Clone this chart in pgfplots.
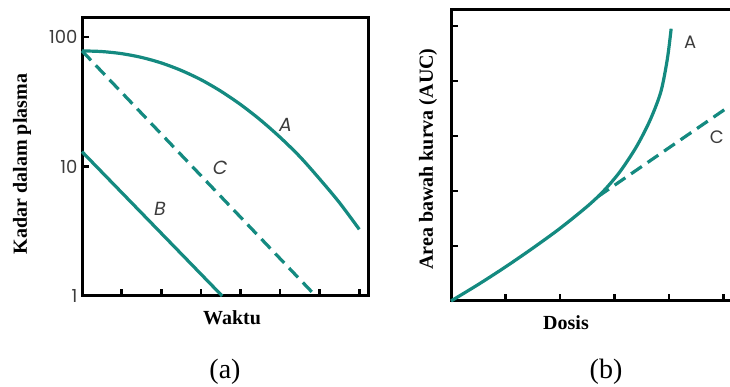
\documentclass[border=0pt]{standalone}
\usepackage{pgfplots}
\pgfplotsset{compat=1.18}
\usepackage{fontspec}
\setmainfont{Liberation Serif}
\newfontfamily\futura{Poppins}
\definecolor{teal1}{RGB}{20,138,128}
\definecolor{lab}{RGB}{60,60,60}
\begin{document}
\begin{tikzpicture}[x=1pt,y=1pt]
\pgfplotsset{
  myax/.style={
    scale only axis, tick pos=left, tick align=inside,
    major tick length=7pt,
    axis line style={line width=3pt},
    major tick style={black, line width=2.6pt},
    xticklabels={},
    clip=false,
  }
}
% ---------- panel (a)
\begin{axis}[myax, at={(82pt,91pt)}, anchor=south west, width=286pt, height=278pt,
  ymode=log, xmin=0, xmax=7.22, ymin=1, ymax=140,
  xtick={1,2,3,4,5,6,7}, ytick={1,10,100}, yticklabels={1,10,100},
  yminorticks=false,
  /pgf/number format/assume math mode=true,
  yticklabel style={font=\futura\fontsize{18}{18}\selectfont, text=lab, xshift=-1pt}]
\draw[line width=3pt, line join=miter] (rel axis cs:0,0) rectangle (rel axis cs:1,1);
\addplot[teal1, line width=3.2pt, smooth] coordinates {
 (0,78.0) (0.5,77.1) (1,74.3) (1.5,69.5) (2,63.0) (2.5,55.2) (3,46.8)
 (3.5,38.2) (4,30.1) (4.5,22.9) (5,16.8) (5.5,11.9) (6,8.0) (6.5,5.25) (7,3.27)};
\addplot[teal1, line width=3.2pt] coordinates {(0,13) (3.54,1)};
\addplot[teal1, line width=3.2pt, dash pattern=on 13pt off 7pt] coordinates {(0,78) (5.9,1)};
\node[text=lab, font=\futura\itshape\fontsize{19}{19}\selectfont] at (axis cs:5.14,21) {A};
\node[text=lab, font=\futura\itshape\fontsize{19}{19}\selectfont] at (axis cs:3.49,9.8) {C};
\node[text=lab, font=\futura\itshape\fontsize{19}{19}\selectfont] at (axis cs:1.97,4.7) {B};
\end{axis}
% ---------- panel (b)
\begin{axis}[myax, at={(451pt,86pt)}, anchor=south west, width=285pt, height=291pt,
  xmin=0, xmax=5.23, ymin=0, ymax=5.29,
  xtick={1,2,3,4,5}, ytick={1,2,3,4,5}, yticklabels={}]
\draw[line width=3pt, line join=miter] (rel axis cs:0,0) rectangle (rel axis cs:1,1);
\addplot[teal1, line width=3.2pt, smooth] coordinates {
 (0,0) (0.5,0.3) (1,0.62) (1.5,0.96) (2,1.32) (2.5,1.72) (2.8,2.0) (3.1,2.35)
 (3.4,2.8) (3.65,3.28) (3.85,3.8) (3.97,4.4) (4.04,4.95)};
\addplot[teal1, line width=3.2pt, dash pattern=on 13pt off 7pt] coordinates {(2.7,1.9) (5.05,3.5)};
\node[text=lab, font=\futura\fontsize{18}{18}\selectfont] at (axis cs:4.39,4.71) {A};
\node[text=lab, font=\futura\fontsize{18}{18}\selectfont] at (axis cs:4.88,2.98) {C};
\end{axis}
% ---------- labels
\node[rotate=90, font=\fontsize{20}{24}\bfseries\selectfont] at (22pt,223pt) {Kadar dalam plasma};
\node[font=\fontsize{20}{24}\bfseries\selectfont] at (232pt,69pt) {Waktu};
\node[font=\fontsize{28}{32}\selectfont] at (225pt,15pt) {(a)};
\node[rotate=90, font=\fontsize{20}{24}\bfseries\selectfont] at (428pt,228pt) {Area bawah kurva (AUC)};
\node[font=\fontsize{20}{24}\bfseries\selectfont] at (566pt,64pt) {Dosis};
\node[font=\fontsize{28}{32}\selectfont] at (606pt,15pt) {(b)};
\pgfresetboundingbox
\useasboundingbox (0pt,0pt) rectangle (730pt,387pt);
\end{tikzpicture}
\end{document}
